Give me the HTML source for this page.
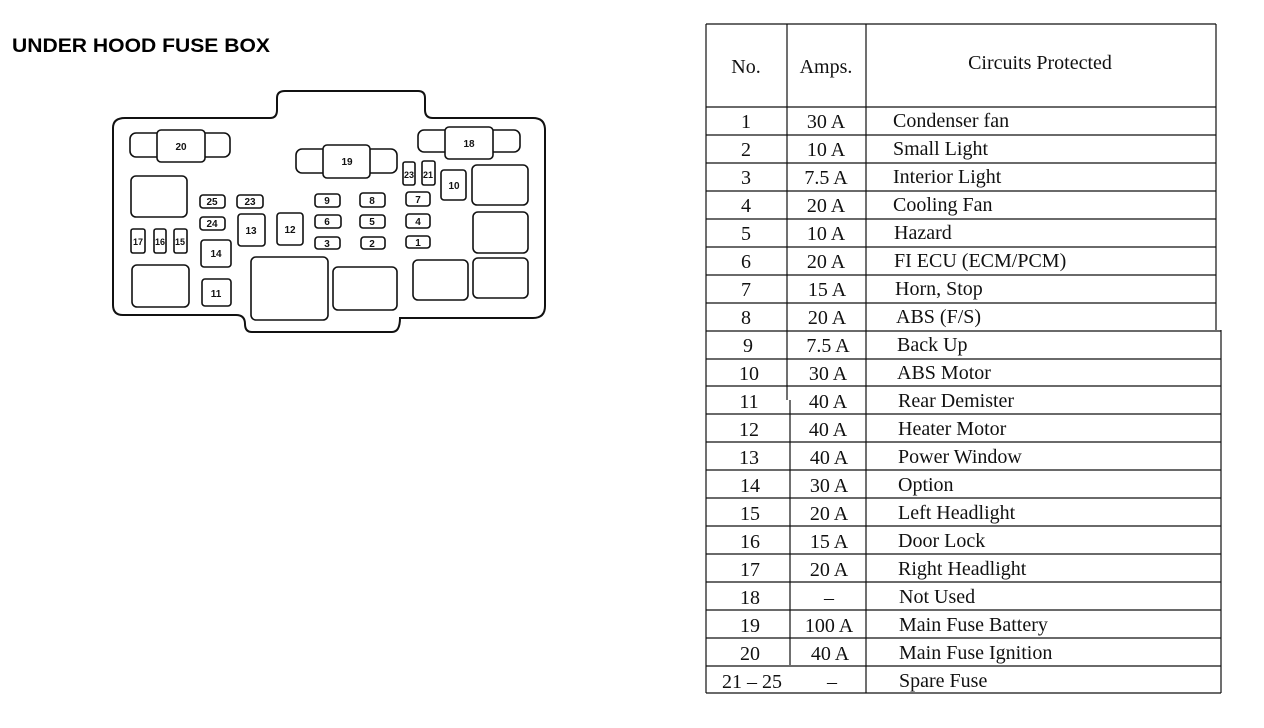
<!DOCTYPE html>
<html><head><meta charset="utf-8"><style>
html,body{margin:0;padding:0;background:#fff;width:1264px;height:728px;overflow:hidden}
svg{display:block}
.t{font-family:"Liberation Serif",serif;font-size:20px;fill:#111}
.f{font-family:"Liberation Sans",sans-serif;font-weight:bold;font-size:10px;fill:#111}
</style></head><body>
<svg width="1264" height="728" viewBox="0 0 1264 728" xmlns="http://www.w3.org/2000/svg">
<text x="12" y="52" font-family="Liberation Sans,sans-serif" font-weight="bold" font-size="19" textLength="258" lengthAdjust="spacingAndGlyphs" fill="#000">UNDER HOOD FUSE BOX</text>
<g fill="none" stroke="#111" stroke-width="2">
<path d="M113,128 Q113,118 125,118 L270,118 Q277,118 277,110 L277,98 Q277,91 285,91 L418,91 Q425,91 425,98 L425,110 Q425,118 433,118 L533,118 Q545,118 545,130 L545,306 Q545,318 533,318 L400,318 Q400,332 392,332 L252,332 Q245,332 245,324 Q245,315 236,315 L123,315 Q113,315 113,305 Z"/>
</g>
<g fill="#fff" stroke="#111" stroke-width="1.6">
<rect x="130" y="133" width="100" height="24" rx="6"/><rect x="157" y="130" width="48" height="32" rx="4"/>
<rect x="296" y="149" width="101" height="24" rx="6"/><rect x="323" y="145" width="47" height="33" rx="4"/>
<rect x="418" y="130" width="102" height="22" rx="6"/><rect x="445" y="127" width="48" height="32" rx="4"/>
<rect x="403" y="162" width="12" height="23" rx="2"/><rect x="422" y="161" width="13" height="24" rx="2"/>
<rect x="441" y="170" width="25" height="30" rx="3"/>
<rect x="472" y="165" width="56" height="40" rx="5"/><rect x="473" y="212" width="55" height="41" rx="5"/><rect x="473" y="258" width="55" height="40" rx="5"/>
<rect x="413" y="260" width="55" height="40" rx="5"/><rect x="333" y="267" width="64" height="43" rx="5"/><rect x="251" y="257" width="77" height="63" rx="5"/>
<rect x="131" y="176" width="56" height="41" rx="5"/><rect x="132" y="265" width="57" height="42" rx="5"/>
<rect x="131" y="229" width="14" height="24" rx="2"/><rect x="154" y="229" width="12" height="24" rx="2"/><rect x="174" y="229" width="13" height="24" rx="2"/>
<rect x="200" y="195" width="25" height="13" rx="3"/><rect x="237" y="195" width="26" height="13" rx="3"/><rect x="200" y="217" width="25" height="13" rx="3"/>
<rect x="201" y="240" width="30" height="27" rx="3"/><rect x="202" y="279" width="29" height="27" rx="3"/>
<rect x="238" y="214" width="27" height="32" rx="3"/><rect x="277" y="213" width="26" height="32" rx="3"/>
<rect x="315" y="194" width="25" height="13" rx="3"/><rect x="315" y="215" width="26" height="13" rx="3"/><rect x="315" y="237" width="25" height="12" rx="3"/>
<rect x="360" y="193" width="25" height="14" rx="3"/><rect x="360" y="215" width="25" height="13" rx="3"/><rect x="361" y="237" width="24" height="12" rx="3"/>
<rect x="406" y="192" width="24" height="14" rx="3"/><rect x="406" y="214" width="24" height="14" rx="3"/><rect x="406" y="236" width="24" height="12" rx="3"/>
</g>
<g class="f" text-anchor="middle">
<text x="181" y="150">20</text><text x="347" y="165">19</text><text x="469" y="147">18</text>
<text x="409" y="178" font-size="9">23</text><text x="428" y="178" font-size="9">21</text><text x="454" y="189">10</text>
<text x="138" y="245" font-size="9">17</text><text x="160" y="245" font-size="9">16</text><text x="180" y="245" font-size="9">15</text>
<text x="212" y="205">25</text><text x="250" y="205">23</text><text x="212" y="227">24</text>
<text x="216" y="257">14</text><text x="216" y="297">11</text><text x="251" y="234">13</text><text x="290" y="233">12</text>
<text x="327" y="204">9</text><text x="327" y="225">6</text><text x="327" y="247">3</text>
<text x="372" y="204">8</text><text x="372" y="225">5</text><text x="372" y="247">2</text>
<text x="418" y="203">7</text><text x="418" y="225">4</text><text x="418" y="246">1</text>
</g>
<g stroke="#111" stroke-width="1.2">
<line x1="706" y1="24" x2="706" y2="693"/><line x1="787" y1="24" x2="787" y2="400"/><line x1="790" y1="400" x2="790" y2="665"/>
<line x1="866" y1="24" x2="866" y2="693"/><line x1="1216" y1="24" x2="1216" y2="330"/><line x1="1221" y1="330" x2="1221" y2="693"/>
<line x1="706" y1="24" x2="1216" y2="24"/>
<line x1="706" y1="107" x2="1216" y2="107"/><line x1="706" y1="135" x2="1216" y2="135"/><line x1="706" y1="163" x2="1216" y2="163"/>
<line x1="706" y1="191" x2="1216" y2="191"/><line x1="706" y1="219" x2="1216" y2="219"/><line x1="706" y1="247" x2="1216" y2="247"/>
<line x1="706" y1="275" x2="1216" y2="275"/><line x1="706" y1="303" x2="1216" y2="303"/><line x1="706" y1="331" x2="1221" y2="331"/>
<line x1="706" y1="359" x2="1221" y2="359"/><line x1="706" y1="386" x2="1221" y2="386"/><line x1="706" y1="414" x2="1221" y2="414"/>
<line x1="706" y1="442" x2="1221" y2="442"/><line x1="706" y1="470" x2="1221" y2="470"/><line x1="706" y1="498" x2="1221" y2="498"/>
<line x1="706" y1="526" x2="1221" y2="526"/><line x1="706" y1="554" x2="1221" y2="554"/><line x1="706" y1="582" x2="1221" y2="582"/>
<line x1="706" y1="610" x2="1221" y2="610"/><line x1="706" y1="638" x2="1221" y2="638"/><line x1="706" y1="666" x2="1221" y2="666"/>
<line x1="706" y1="693" x2="1221" y2="693"/>
</g>
<g class="t">
<text x="746" y="73" text-anchor="middle">No.</text><text x="826" y="73" text-anchor="middle">Amps.</text><text x="1040" y="69" text-anchor="middle">Circuits Protected</text>
</g>
<g class="t" text-anchor="middle">
<text x="746" y="128">1</text><text x="826" y="128">30 A</text>
<text x="746" y="156">2</text><text x="826" y="156">10 A</text>
<text x="746" y="184">3</text><text x="826" y="184">7.5 A</text>
<text x="746" y="212">4</text><text x="826" y="212">20 A</text>
<text x="746" y="240">5</text><text x="826" y="240">10 A</text>
<text x="746" y="268">6</text><text x="826" y="268">20 A</text>
<text x="746" y="296">7</text><text x="827" y="296">15 A</text>
<text x="746" y="324">8</text><text x="827" y="324">20 A</text>
<text x="748" y="352">9</text><text x="828" y="352">7.5 A</text>
<text x="749" y="380">10</text><text x="828" y="380">30 A</text>
<text x="749" y="408">11</text><text x="828" y="408">40 A</text>
<text x="749" y="436">12</text><text x="828" y="436">40 A</text>
<text x="749" y="464">13</text><text x="829" y="464">40 A</text>
<text x="750" y="492">14</text><text x="829" y="492">30 A</text>
<text x="750" y="520">15</text><text x="829" y="520">20 A</text>
<text x="750" y="548">16</text><text x="829" y="548">15 A</text>
<text x="750" y="576">17</text><text x="829" y="576">20 A</text>
<text x="750" y="604">18</text><text x="829" y="604">–</text>
<text x="750" y="632">19</text><text x="829" y="632">100 A</text>
<text x="750" y="660">20</text><text x="830" y="660">40 A</text>
<text x="752" y="688">21 – 25</text><text x="832" y="688">–</text>
</g>
<g class="t">
<text x="893" y="127">Condenser fan</text>
<text x="893" y="155">Small Light</text>
<text x="893" y="183">Interior Light</text>
<text x="893" y="211">Cooling Fan</text>
<text x="894" y="239">Hazard</text>
<text x="894" y="267">FI ECU (ECM/PCM)</text>
<text x="895" y="295">Horn, Stop</text>
<text x="896" y="323">ABS (F/S)</text>
<text x="897" y="351">Back Up</text>
<text x="897" y="379">ABS Motor</text>
<text x="898" y="407">Rear Demister</text>
<text x="898" y="435">Heater Motor</text>
<text x="898" y="463">Power Window</text>
<text x="898" y="491">Option</text>
<text x="898" y="519">Left Headlight</text>
<text x="898" y="547">Door Lock</text>
<text x="898" y="575">Right Headlight</text>
<text x="899" y="603">Not Used</text>
<text x="899" y="631">Main Fuse Battery</text>
<text x="899" y="659">Main Fuse Ignition</text>
<text x="899" y="687">Spare Fuse</text>
</g>
</svg>
</body></html>
